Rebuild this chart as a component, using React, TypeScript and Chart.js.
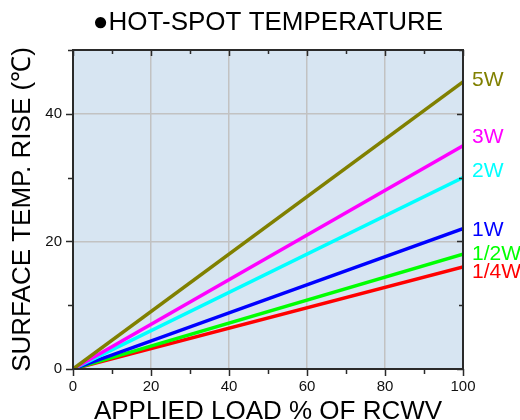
import React, { useEffect, useRef } from "react";
import { Chart, registerables } from "chart.js";

Chart.register(...registerables);

const loads = [0, 100];
const seriesNames = ["5W", "3W", "2W", "1W", "1/2W", "1/4W"];
const rise5W = [0, 45];
const rise3W = [0, 35];
const rise2W = [0, 30];
const rise1W = [0, 22];
const riseHalfW = [0, 18];
const riseQuarterW = [0, 16];
const seriesColors = ["#808000", "#ff00ff", "#00ffff", "#0000ff", "#00ff00", "#ff0000"];
const labelNudge = [-2, -8, -6, 2, 0, 5];
const xTickLabels = [0, 20, 40, 60, 80, 100];
const yTickLabels = [0, 20, 40];

const FONT = "'Liberation Sans', Arial, sans-serif";

const frameAndLabels = {
  id: "frameAndLabels",
  beforeDraw(chart: any) {
    const { ctx, chartArea: a } = chart;
    ctx.save();
    ctx.fillStyle = "#d7e5f2";
    ctx.fillRect(a.left, a.top, a.right - a.left, a.bottom - a.top);
    ctx.restore();
  },
  afterDatasetsDraw(chart: any) {
    const { ctx, chartArea: a, scales } = chart;
    const xs = scales.x;
    const ys = scales.y;
    ctx.save();
    ctx.strokeStyle = "#2a2a2a";
    ctx.lineWidth = 1.5;
    // ticks
    for (let v = 0; v <= 100; v += 10) {
      const px = Math.round(xs.getPixelForValue(v)) + 0.5;
      const major = v % 20 === 0;
      const outL = major ? 7 : 5;
      const inL = major ? 6 : 4;
      ctx.beginPath();
      ctx.moveTo(px, a.bottom);
      ctx.lineTo(px, a.bottom + outL);
      ctx.moveTo(px, a.top);
      ctx.lineTo(px, a.top + inL);
      ctx.stroke();
    }
    for (let v = 0; v <= 50; v += 10) {
      const py = Math.round(ys.getPixelForValue(v)) + 0.5;
      const major = v % 20 === 0;
      const outL = major ? 7 : 5;
      const inL = major ? 6 : 4;
      ctx.beginPath();
      ctx.moveTo(a.left, py);
      ctx.lineTo(a.left - outL, py);
      ctx.moveTo(a.right, py);
      ctx.lineTo(a.right - inL, py);
      ctx.stroke();
    }
    ctx.lineWidth = 2;
    ctx.strokeRect(a.left, a.top, a.right - a.left, a.bottom - a.top);
    ctx.restore();
  },
  afterDraw(chart: any) {
    const { ctx, chartArea: a, scales } = chart;
    ctx.save();
    ctx.font = `21px ${FONT}`;
    ctx.textBaseline = "middle";
    ctx.textAlign = "left";
    chart.data.datasets.forEach((ds: any, i: number) => {
      const last = ds.data[ds.data.length - 1];
      const py = scales.y.getPixelForValue(last.y) + labelNudge[i];
      ctx.fillStyle = seriesColors[i];
      ctx.fillText(ds.label, a.right + 9, py);
    });
    ctx.restore();
  },
};

function toPoints(vals: number[]) {
  return loads.map((x, i) => ({ x, y: vals[i] }));
}

export default function App() {
  const ref = useRef<HTMLCanvasElement | null>(null);
  useEffect(() => {
    document.body.style.margin = "0";
    document.body.style.overflow = "hidden";
    const allSeries = [rise5W, rise3W, rise2W, rise1W, riseHalfW, riseQuarterW];
    const chart = new Chart(ref.current as HTMLCanvasElement, {
      type: "line",
      data: {
        datasets: allSeries.map((vals, i) => ({
          label: seriesNames[i],
          data: toPoints(vals),
          borderColor: seriesColors[i],
          backgroundColor: seriesColors[i],
          borderWidth: 3.5,
          pointRadius: 0,
          tension: 0,
        })),
      },
      options: {
        animation: false,
        responsive: false,
        layout: { padding: { top: 0, right: 57, bottom: 0, left: 0 } },
        plugins: {
          legend: { display: false },
          tooltip: { enabled: false },
          title: {
            display: true,
            text: "●HOT-SPOT TEMPERATURE",
            color: "#000",
            fullSize: false,
            font: { family: FONT, size: 26, weight: "normal", lineHeight: 1.2 },
            padding: { top: 7, bottom: 11.8 },
          },
        },
        scales: {
          x: {
            type: "linear",
            min: 0,
            max: 100,
            border: { display: false },
            grid: {
              drawTicks: false,
              lineWidth: 1.5,
              color: (c: any) =>
                c.tick && c.tick.value % 20 === 0 && c.tick.value > 0 && c.tick.value < 100
                  ? "#c2c2c2"
                  : "rgba(0,0,0,0)",
            },
            ticks: {
              stepSize: 10,
              padding: 9,
              color: "#111",
              maxRotation: 0,
              autoSkip: false,
              font: { family: FONT, size: 15 },
              callback: (v: any) => (xTickLabels.includes(Number(v)) ? String(v) : ""),
            },
            title: {
              display: true,
              text: "APPLIED LOAD % OF RCWV",
              color: "#000",
              font: { family: FONT, size: 26, lineHeight: 1.2 },
              padding: { top: 0, bottom: -7.1 },
            },
            afterFit: (s: any) => {
              s.height = 51;
            },
          },
          y: {
            type: "linear",
            min: 0,
            max: 50,
            border: { display: false },
            grid: {
              drawTicks: false,
              lineWidth: 1.5,
              color: (c: any) =>
                c.tick && c.tick.value % 20 === 0 && c.tick.value > 0 && c.tick.value < 50
                  ? "#c2c2c2"
                  : "rgba(0,0,0,0)",
            },
            ticks: {
              stepSize: 10,
              padding: 11,
              color: "#111",
              autoSkip: false,
              font: { family: FONT, size: 15 },
              callback: (v: any) => (yTickLabels.includes(Number(v)) ? String(v) : ""),
            },
            title: {
              display: true,
              text: "SURFACE TEMP. RISE (℃)",
              color: "#000",
              font: { family: FONT, size: 26, lineHeight: 1.2 },
              padding: { top: 7, bottom: 0 },
            },
            afterFit: (s: any) => {
              s.width = 73;
            },
          },
        },
      },
      plugins: [frameAndLabels],
    });
    return () => chart.destroy();
  }, []);
  return (
    <div style={{ width: 520, height: 420, overflow: "hidden" }}>
      <canvas ref={ref} width={520} height={420} style={{ display: "block" }} />
    </div>
  );
}
